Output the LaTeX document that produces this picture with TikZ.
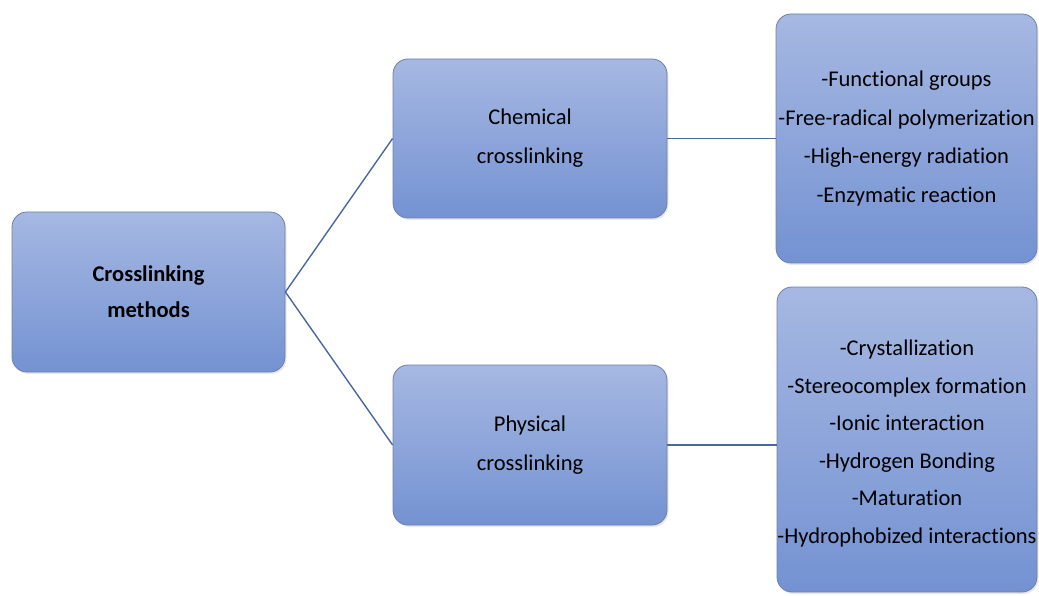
\documentclass[tikz,border=0pt]{standalone}
\usepackage{fontspec}
\setmainfont[Ligatures={NoCommon}]{Carlito}
\usetikzlibrary{shadows}
\definecolor{boxtop}{RGB}{166,184,226}
\definecolor{boxbot}{RGB}{116,146,210}
\definecolor{boxedge}{RGB}{110,128,170}
\definecolor{linkcol}{RGB}{72,104,158}
\tikzset{
  box/.style={rectangle, rounded corners=15pt, draw=boxedge, line width=0.8pt,
    top color=boxtop, bottom color=boxbot, inner sep=0pt, align=center,
    font={\fontsize{22.5}{37}\selectfont}, text=black,
    drop shadow={opacity=0.18, shadow xshift=1.5pt, shadow yshift=-2pt}},
  boxtext/.style={inner sep=0pt, align=center, text=black},
  link/.style={draw=linkcol, line width=1.4pt}
}
\begin{document}
\begin{tikzpicture}[x=1pt,y=-1pt]
\useasboundingbox (0,0) rectangle (1039,596);
\node[box, minimum width=273pt, minimum height=160pt, font={\fontsize{22.5}{36}\selectfont\bfseries}] (root) at (148.5,292) {Crosslinking\\methods};
\node[box, minimum width=274pt, minimum height=159pt, font={\fontsize{22.5}{39}\selectfont}] (chem) at (530,138.5) {Chemical\\crosslinking};
\node[box, minimum width=274pt, minimum height=160pt, font={\fontsize{22.5}{39}\selectfont}] (phys) at (530,445) {Physical\\crosslinking};
\node[box, minimum width=261pt, minimum height=249pt, font={\fontsize{22.5}{38.5}\selectfont}] (chemlist) at (906.5,138.5) {-Functional groups\\-Free-radical polymerization\\-High-energy radiation\\-Enzymatic reaction};
\node[box, minimum width=260pt, minimum height=305pt] (physlist) at (907,439.5) {};
\node[boxtext, font={\fontsize{22.5}{37.6}\selectfont}] (physlisttext) at (907,443.5) {-Crystallization\\-Stereocomplex formation\\-Ionic interaction\\-Hydrogen Bonding\\-Maturation\\-Hydrophobized interactions};
\draw[link] (root.east) -- (chem.west);
\draw[link] (root.east) -- (phys.west);
\draw[link] (chem.east) -- (chem.east -| chemlist.west);
\draw[link] (phys.east) -- (phys.east -| physlist.west);
\end{tikzpicture}
\end{document}
